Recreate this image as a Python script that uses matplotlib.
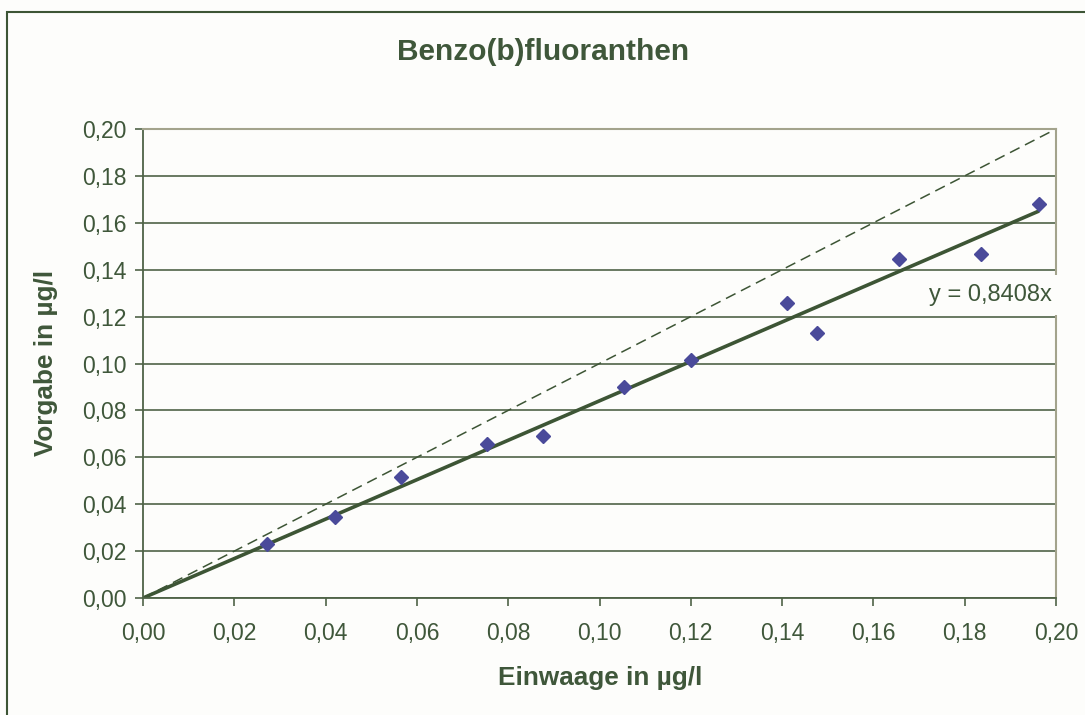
import matplotlib
matplotlib.use("Agg")
import matplotlib.pyplot as plt
from matplotlib.patches import Rectangle
from matplotlib.ticker import MultipleLocator, FuncFormatter

einwaage = [0.0272, 0.0420, 0.0565, 0.0754, 0.0877, 0.1054, 0.1200,
            0.1410, 0.1477, 0.1655, 0.1836, 0.1963]
vorgabe = [0.0230, 0.0347, 0.0515, 0.0655, 0.0692, 0.0901, 0.1015,
           0.1259, 0.1129, 0.1444, 0.1466, 0.1681]
slope = 0.8408
ideal = [0.0, 0.2]

plt.rcParams['font.family'] = ['Liberation Sans', 'DejaVu Sans']

col_text = '#3f573a'
col_line = '#3d5535'
col_grid = '#4f6347'
col_frame = '#a3a38c'
col_bg = '#fdfdfb'

fig = plt.figure(figsize=(10.85, 7.15), dpi=100)
fig.patch.set_facecolor(col_bg)

# Rahmen um das Diagramm (Excel chart area)
fig.patches.append(Rectangle((7 / 1085, -0.05), 1.2, 1 - 12 / 715 + 0.05,
                             transform=fig.transFigure, fill=False,
                             edgecolor=col_line, linewidth=1.5))

ax = fig.add_axes([143 / 1085, 117 / 715, 913 / 1085, 469 / 715])
ax.set_facecolor(col_bg)

ax.set_xlim(0, 0.2)
ax.set_ylim(0, 0.2)
ax.xaxis.set_major_locator(MultipleLocator(0.02))
ax.yaxis.set_major_locator(MultipleLocator(0.02))
fmt = FuncFormatter(lambda v, p: f"{v:.2f}".replace('.', ','))
ax.xaxis.set_major_formatter(fmt)
ax.yaxis.set_major_formatter(fmt)

ax.yaxis.grid(True, color=col_grid, linewidth=1.2)
ax.set_axisbelow(True)

for s in ['left', 'bottom']:
    ax.spines[s].set_color(col_grid)
    ax.spines[s].set_linewidth(1.3)
for s in ['top', 'right']:
    ax.spines[s].set_color(col_frame)
    ax.spines[s].set_linewidth(1.5)

ax.tick_params(axis='both', direction='out', length=6, width=1.2,
               color=col_grid, labelcolor=col_text, labelsize=16.5)
ax.tick_params(axis='x', pad=11)
ax.tick_params(axis='y', pad=6)

# Ideallinie y = x
ax.plot(ideal, ideal, linestyle=(0, (7, 4)), color=col_line, linewidth=1.1)

# Trendlinie durch den Ursprung
xmax = max(einwaage)
ax.plot([0, xmax], [0, slope * xmax], color=col_line, linewidth=2.6,
        solid_capstyle='butt')

ax.plot(einwaage, vorgabe, linestyle='none', marker='D', markersize=7.5,
        color='#4a4a9a', markeredgecolor='#4a4a9a')

ax.text(0.1857, 0.1292, f"y = {slope:.4f}x".replace('.', ','),
        ha='center', va='center', fontsize=17, color=col_text,
        bbox=dict(boxstyle='square,pad=0.4', facecolor=col_bg,
                  edgecolor='none'))

fig.text(543 / 1085, 1 - 52 / 715, 'Benzo(b)fluoranthen', ha='center',
         va='center', fontsize=21.5, fontweight='bold', color=col_text)
fig.text(600 / 1085, 1 - 678 / 715, 'Einwaage in µg/l', ha='center',
         va='center', fontsize=18.8, fontweight='bold', color=col_text)
fig.text(46 / 1085, 1 - 363 / 715, 'Vorgabe in µg/l', ha='center',
         va='center', rotation=90, fontsize=18.8, fontweight='bold',
         color=col_text)

fig.savefig('out.png', dpi=100, facecolor=fig.get_facecolor())
